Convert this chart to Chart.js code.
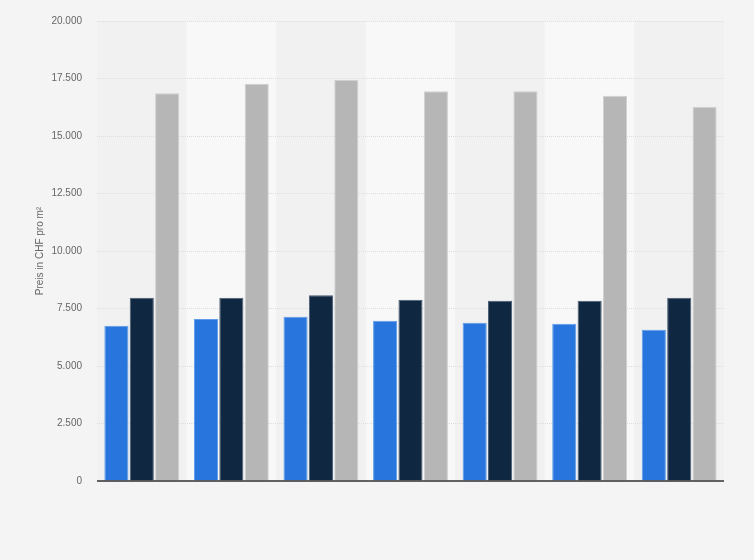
<!DOCTYPE html>
<html>
<head>
<meta charset="utf-8">
<script src="https://cdn.jsdelivr.net/npm/chart.js@4"></script>
<style>
  html, body { margin: 0; padding: 0; background: #f4f4f4; }
  #wrap { width: 754px; height: 560px; }
</style>
</head>
<body>
<div id="wrap"><canvas id="chart"></canvas></div>
<script>
// Data
const categories = ["1", "2", "3", "4", "5", "6", "7"];
const seriesBlue = [6750, 7040, 7140, 6970, 6880, 6840, 6580];
const seriesNavy = [7970, 7970, 8080, 7880, 7840, 7840, 7970];
const seriesGray = [16860, 17270, 17440, 16950, 16950, 16750, 16270];
const yTicks = [0, 2500, 5000, 7500, 10000, 12500, 15000, 17500, 20000];

// German thousands separator
function fmt(v) {
  return String(v).replace(/\B(?=(\d{3})+(?!\d))/g, ".");
}

// Background and alternating column bands, drawn under the grid
const bands = {
  id: "bands",
  beforeDraw(chart) {
    const { ctx, chartArea, scales } = chart;
    ctx.save();
    ctx.fillStyle = "#f4f4f4";
    ctx.fillRect(0, 0, chart.width, chart.height);
    const x = scales.x;
    const n = categories.length;
    const w = (chartArea.right - chartArea.left) / n;
    for (let i = 0; i < n; i++) {
      const cx = x.getPixelForValue(i);
      ctx.fillStyle = i % 2 === 0 ? "#f1f1f1" : "#f8f8f8";
      ctx.fillRect(cx - w / 2, chartArea.top, w, chartArea.bottom - chartArea.top);
    }
    ctx.restore();
  },
  afterDatasetsDraw(chart) {
    // zero line over the bar bottoms
    const { ctx, chartArea, scales } = chart;
    const y0 = scales.y.getPixelForValue(0);
    ctx.save();
    ctx.strokeStyle = "#333333";
    ctx.lineWidth = 1.5;
    ctx.beginPath();
    ctx.moveTo(chartArea.left, y0);
    ctx.lineTo(chartArea.right, y0);
    ctx.stroke();
    ctx.restore();
  }
};

const ctx = document.getElementById("chart").getContext("2d");

new Chart(ctx, {
  type: "bar",
  data: {
    labels: categories,
    datasets: [
      {
        data: seriesBlue,
        backgroundColor: "#2876dd",
        borderColor: "#5e9ce9",
        borderWidth: 1
      },
      {
        data: seriesNavy,
        backgroundColor: "#0f2740",
        borderColor: "#4b5e74",
        borderWidth: 1
      },
      {
        data: seriesGray,
        backgroundColor: "#b6b6b6",
        borderColor: "#d0d0d0",
        borderWidth: 1
      }
    ]
  },
  options: {
    responsive: true,
    maintainAspectRatio: false,
    animation: false,
    layout: { padding: { left: 34, right: 30, top: 20, bottom: 79 } },
    plugins: {
      legend: { display: false },
      tooltip: { enabled: false }
    },
    datasets: {
      bar: { categoryPercentage: 0.85, barPercentage: 0.95 }
    },
    scales: {
      x: {
        grid: { display: false, drawTicks: false },
        border: { display: false },
        ticks: { display: false },
        afterFit(scale) { scale.height = 0; }
      },
      y: {
        min: 0,
        max: 20000,
        afterBuildTicks(scale) {
          scale.ticks = yTicks.map(v => ({ value: v }));
        },
        afterFit(scale) { scale.width = 63; },
        border: { display: false, dash: [1, 1] },
        grid: {
          color: "#dddddd",
          drawTicks: false,
          lineWidth: 1
        },
        ticks: {
          padding: 15,
          color: "#666666",
          font: { family: "Arial, 'Liberation Sans', sans-serif", size: 10 },
          callback: v => fmt(v)
        },
        title: {
          display: true,
          text: "Preis in CHF pro m²",
          color: "#666666",
          padding: { top: 0, bottom: 0 },
          font: { family: "Arial, 'Liberation Sans', sans-serif", size: 10 }
        }
      }
    }
  },
  plugins: [bands]
});
</script>
</body>
</html>
